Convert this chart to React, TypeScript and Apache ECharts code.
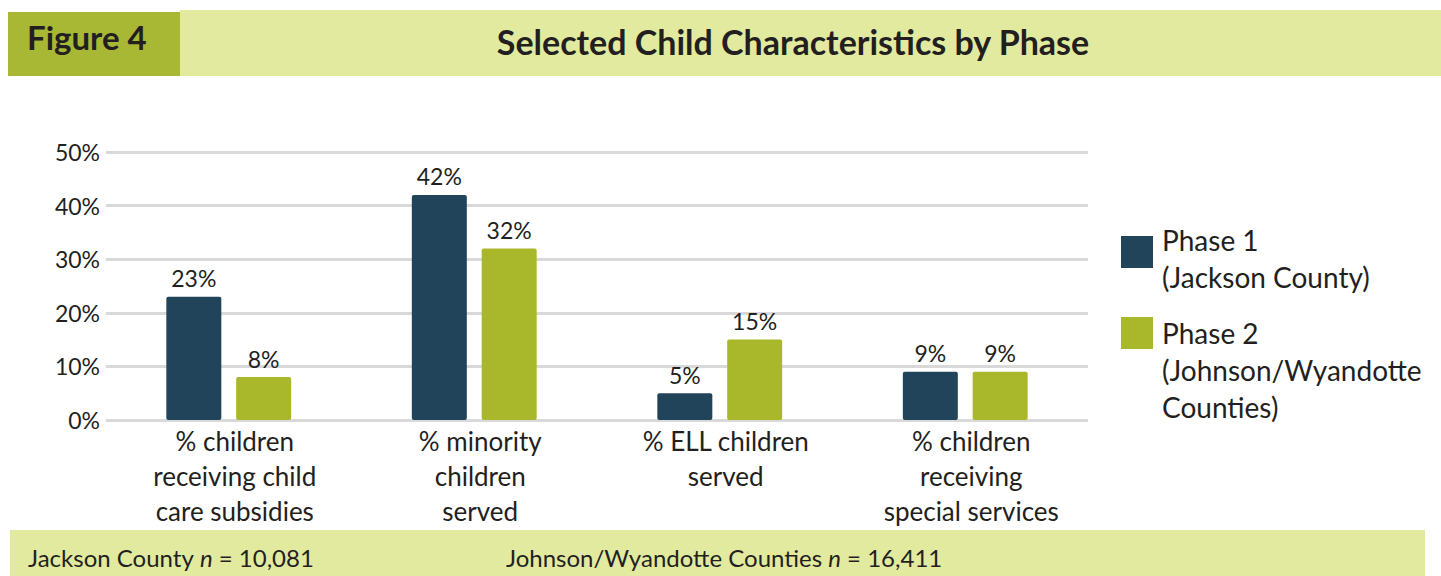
import React, { useEffect, useRef } from "react";
import * as echarts from "echarts";

const categories = [
  "% children\nreceiving child\ncare subsidies",
  "% minority\nchildren\nserved",
  "% ELL children\nserved",
  "% children\nreceiving\nspecial services",
];
const phase1Values = [23, 42, 5, 9];
const phase2Values = [8, 32, 15, 9];
const seriesNames = ["Phase 1\n(Jackson County)", "Phase 2\n(Johnson/Wyandotte\nCounties)"];
const yTicks = [0, 10, 20, 30, 40, 50];
const figureLabel = "Figure 4";
const titleText = "Selected Child Characteristics by Phase";
const footerLeft = ["Jackson County ", "n", " = 10,081"];
const footerRight = ["Johnson/Wyandotte Counties ", "n", " = 16,411"];

const NAVY = "#22445a";
const GREEN = "#a8b82a";
const FONT = "Lato, 'Open Sans', sans-serif";
const TXT = "#231f20";

export default function App() {
  const ref = useRef<HTMLDivElement>(null);
  useEffect(() => {
    if (!ref.current) return;
    const chart = echarts.init(ref.current, undefined, { renderer: "svg" });
    const colors = [NAVY, GREEN];
    const legendTops = [236, 317];
    const legendTextTops = [221, 314];
    const legendGraphics: any[] = [];
    seriesNames.forEach((name, i) => {
      legendGraphics.push({
        type: "rect",
        shape: { x: 1121, y: legendTops[i], width: 32, height: 32 },
        style: { fill: colors[i] },
      });
      legendGraphics.push({
        type: "text",
        x: 1162,
        y: legendTextTops[i],
        style: {
          text: name,
          font: `28px ${FONT}`,
          fill: TXT,
          lineHeight: 37,
        },
      });
    });
    const valueLabel = {
      show: true,
      position: "top",
      distance: 7,
      formatter: "{c}%",
      fontSize: 23,
      color: TXT,
    };
    chart.setOption({
      animation: false,
      textStyle: { fontFamily: FONT },
      grid: { left: 106, right: 353, top: 152, bottom: 156, containLabel: false },
      xAxis: {
        type: "category",
        data: categories,
        axisLine: { show: false },
        axisTick: { show: false },
        axisLabel: {
          fontSize: 26,
          lineHeight: 35,
          color: TXT,
          margin: 3,
          interval: 0,
          verticalAlign: "top",
          padding: [0, 0, 0, 12],
        },
      },
      yAxis: {
        type: "value",
        min: 0,
        max: 50,
        interval: 10,
        axisLine: { show: false },
        axisTick: { show: false },
        axisLabel: {
          fontSize: 23,
          color: TXT,
          margin: 6,
          formatter: (v: number) => (yTicks.includes(v) ? `${v}%` : ""),
        },
        splitLine: { lineStyle: { color: "#d9d9d9", width: 3 } },
      },
      series: [
        {
          name: "Phase 1",
          type: "bar",
          data: phase1Values,
          barWidth: 55,
          barGap: "27%",
          itemStyle: { color: NAVY, borderRadius: 2 },
          label: valueLabel,
        },
        {
          name: "Phase 2",
          type: "bar",
          data: phase2Values,
          barWidth: 55,
          itemStyle: { color: GREEN, borderRadius: 2 },
          label: valueLabel,
        },
      ],
      graphic: [
        { type: "rect", z: -1, shape: { x: 180, y: 10, width: 1261, height: 66 }, style: { fill: "#e2eaa0" } },
        { type: "rect", z: -1, shape: { x: 8, y: 12, width: 172, height: 64 }, style: { fill: "#a8b834" } },
        {
          type: "text",
          x: 27,
          y: 37,
          style: { text: figureLabel, font: `bold 33px ${FONT}`, fill: TXT, verticalAlign: "middle" },
        },
        {
          type: "text",
          x: 793,
          y: 41,
          style: { text: titleText, font: `bold 34px ${FONT}`, fill: TXT, align: "center", verticalAlign: "middle" },
        },
        { type: "rect", z: -1, shape: { x: 10, y: 530, width: 1415, height: 46 }, style: { fill: "#e2eaa0" } },
        {
          type: "text",
          x: 28,
          y: 557,
          style: {
            text: `{r|${footerLeft[0]}}{i|${footerLeft[1]}}{r|${footerLeft[2]}}`,
            verticalAlign: "middle",
            rich: {
              r: { font: `24px ${FONT}`, fill: TXT },
              i: { font: `italic 24px ${FONT}`, fill: TXT },
            },
          },
        },
        {
          type: "text",
          x: 506,
          y: 557,
          style: {
            text: `{r|${footerRight[0]}}{i|${footerRight[1]}}{r|${footerRight[2]}}`,
            verticalAlign: "middle",
            rich: {
              r: { font: `24px ${FONT}`, fill: TXT },
              i: { font: `italic 24px ${FONT}`, fill: TXT },
            },
          },
        },
        ...legendGraphics,
      ],
    });
    return () => chart.dispose();
  }, []);
  return (
    <div
      ref={ref}
      style={{ position: "absolute", left: 0, top: 0, width: 1441, height: 576, background: "#fff" }}
    />
  );
}
